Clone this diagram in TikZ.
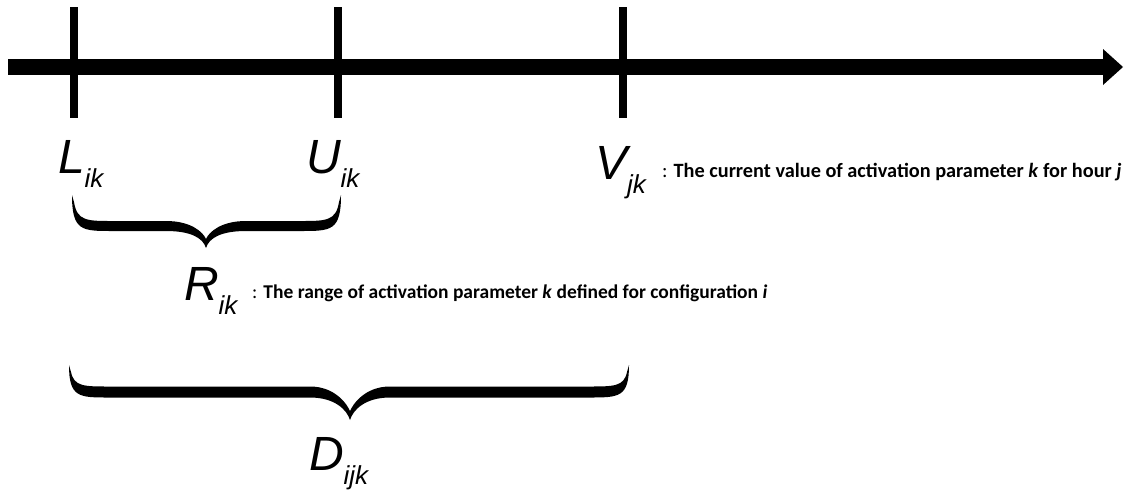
\documentclass[tikz,border=0pt]{standalone}
\usepackage{fontspec}
\setmainfont{Liberation Sans}
\newfontfamily\annfont{Carlito}
\newcommand{\biglab}[2]{\fontsize{48}{48}\selectfont\itshape #1\raisebox{-14pt}{\fontsize{26}{26}\selectfont\itshape #2}}
\newcommand{\bracefill}[7]{% x1 x2 y0 yb t xm yp
  \fill (#1,#3) .. controls (#1,#4+#5/2) and (#1+10,#4+#5/2) .. (#1+40,#4+#5/2)
    -- (#6-40,#4+#5/2) .. controls (#6-15,#4+#5/2) and (#6-3,#7-10) .. (#6,#7)
    .. controls (#6+3,#7-10) and (#6+15,#4+#5/2) .. (#6+40,#4+#5/2)
    -- (#2-40,#4+#5/2) .. controls (#2-10,#4+#5/2) and (#2,#4+#5/2) .. (#2,#3)
    -- (#2-2,#3+7) .. controls (#2-5,#4-#5/2) and (#2-15,#4-#5/2) .. (#2-40,#4-#5/2)
    -- (#6+40,#4-#5/2) .. controls (#6+15,#4-#5/2) and (#6+3,#7-16) .. (#6,#7-9)
    .. controls (#6-3,#7-16) and (#6-15,#4-#5/2) .. (#6-40,#4-#5/2)
    -- (#1+40,#4-#5/2) .. controls (#1+15,#4-#5/2) and (#1+5,#4-#5/2) .. (#1+2,#3+7)
    -- cycle;}
\tikzset{
  tick/.style={line width=8pt},
  lab/.style={anchor=base west, inner sep=0pt, outer sep=0pt},
  ann/.style={anchor=base west, inner sep=0pt, font=\annfont\fontsize{19.5}{19.5}\selectfont\bfseries}
}
\begin{document}
\begin{tikzpicture}[x=1pt,y=-1pt]
\useasboundingbox (0,0) rectangle (1129,493);
% axis
\coordinate (a0) at (8,67);
\coordinate (a1) at (1104,67);
\draw[line width=16pt] (a0) -- (a1);
\fill (1103,49) -- (1123,67) -- (1103,85) -- cycle;
% ticks
\coordinate (tL) at (74,7);  \coordinate (bL) at (74,118);
\coordinate (tU) at (338,7); \coordinate (bU) at (338,118);
\coordinate (tV) at (623,7); \coordinate (bV) at (623,118);
\draw[tick] (tL) -- (bL);
\draw[tick] (tU) -- (bU);
\draw[tick] (tV) -- (bV);
% labels
\node[lab] (L) at (58,173) {\biglab{L}{ik}};
\node[lab] (U) at (306,173) {\biglab{U}{ik}};
\node[lab] (V) at (595,179) {\biglab{V}{jk}};
\node[ann, font=\annfont\fontsize{20.3}{20.3}\selectfont\bfseries] (Vt) at (662,177) {\mdseries:\hspace{6pt}\bfseries The current value of activation parameter \textit{k} for hour \textit{j}};
\node[ann] (Rt) at (252,298) {\mdseries:\hspace{6pt}\bfseries The range of activation parameter \textit{k} defined for configuration \textit{i}};
\node[lab] (R) at (184,300) {\biglab{R}{ik}};
\node[lab] (D) at (309,470) {\biglab{D}{ijk}};
% braces
\bracefill{72}{341}{195}{226}{10}{206}{248}
\bracefill{69}{629}{365}{392}{11}{350}{420}
\end{tikzpicture}
\end{document}
